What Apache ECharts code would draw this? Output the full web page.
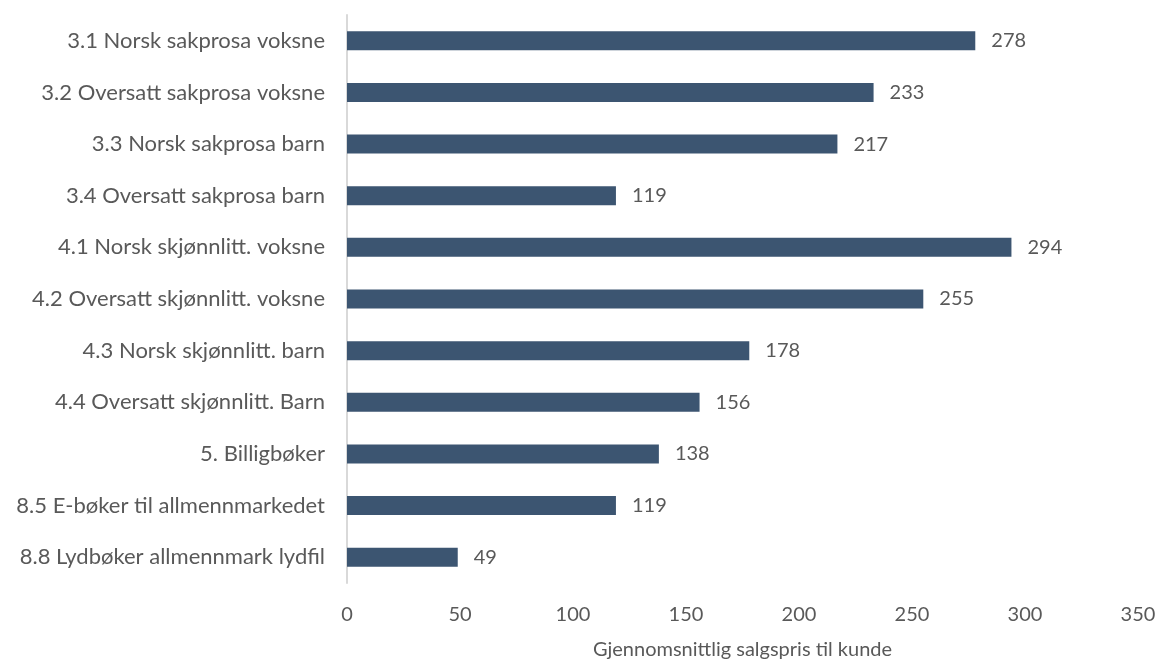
<!DOCTYPE html>
<html>
<head>
<meta charset="utf-8">
<script src="https://cdn.jsdelivr.net/npm/echarts@6/dist/echarts.min.js"></script>
<style>
  html, body { margin: 0; padding: 0; background: #fff; }
  #chart { width: 1159px; height: 660px; }
</style>
</head>
<body>
<div id="chart"></div>
<script>
// Categories listed top to bottom
const categories = [
  '3.1 Norsk sakprosa voksne',
  '3.2 Oversatt sakprosa voksne',
  '3.3 Norsk sakprosa barn',
  '3.4 Oversatt sakprosa barn',
  '4.1 Norsk skjønnlitt. voksne',
  '4.2 Oversatt skjønnlitt. voksne',
  '4.3 Norsk skjønnlitt. barn',
  '4.4 Oversatt skjønnlitt. Barn',
  '5. Billigbøker',
  '8.5 E-bøker til allmennmarkedet',
  '8.8 Lydbøker allmennmark lydfil'
];
const prices = [278, 233, 217, 119, 294, 255, 178, 156, 138, 119, 49];
const axisTitle = 'Gjennomsnittlig salgspris til kunde';

const textColor = '#595959';
const fontFamily = 'Lato, "Open Sans", sans-serif';

const chart = echarts.init(document.getElementById('chart'));
chart.setOption({
  animation: false,
  textStyle: { fontFamily: fontFamily },
  grid: {
    left: 347, right: 21, top: 15, bottom: 77,
    containLabel: false,
    outerBoundsMode: 'none'
  },
  xAxis: {
    type: 'value',
    min: 0, max: 350, interval: 50,
    name: axisTitle,
    nameLocation: 'middle',
    nameGap: 57,
    nameTextStyle: { color: textColor, fontSize: 20, fontFamily: fontFamily },
    axisLine: { show: false },
    axisTick: { show: false },
    splitLine: { show: false },
    axisLabel: { color: textColor, fontSize: 20, margin: 22, fontFamily: fontFamily }
  },
  yAxis: {
    type: 'category',
    data: categories,
    inverse: true,
    axisLine: { show: true, lineStyle: { color: '#d9d9d9', width: 2 } },
    axisTick: { show: false },
    axisLabel: { color: textColor, fontSize: 22, margin: 22, fontFamily: fontFamily }
  },
  series: [{
    type: 'bar',
    data: prices,
    barWidth: 19,
    itemStyle: { color: '#3c5571' },
    label: {
      show: true,
      position: 'right',
      distance: 16,
      color: textColor,
      fontSize: 20,
      fontFamily: fontFamily
    }
  }]
});
</script>
</body>
</html>
